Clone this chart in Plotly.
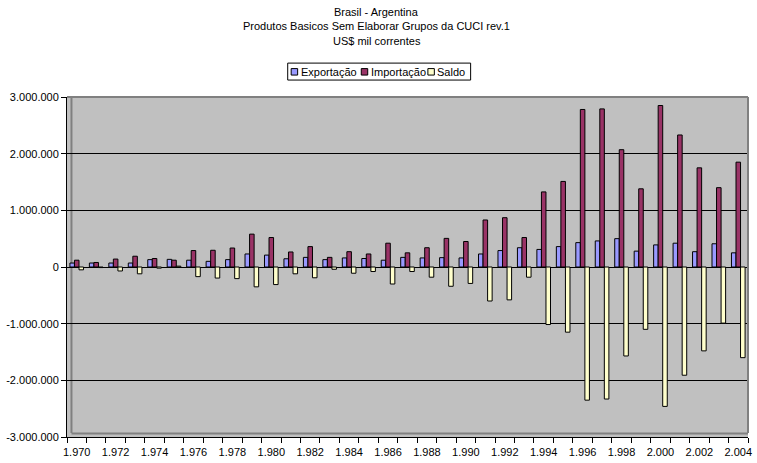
import plotly.graph_objects as go

# Brasil - Argentina trade in basic products (US$ mil correntes)
anos = list(range(1970, 2005))

exportacao = [70000, 70000, 70000, 70000, 130000, 135000, 120000, 100000, 130000, 230000,
              210000, 145000, 170000, 130000, 160000, 150000, 120000, 170000, 160000, 165000,
              160000, 230000, 290000, 340000, 310000, 360000, 430000, 460000, 500000, 280000,
              390000, 420000, 270000, 410000, 250000]

importacao = [120000, 80000, 140000, 190000, 150000, 120000, 290000, 295000, 335000, 580000,
              520000, 265000, 360000, 170000, 270000, 230000, 420000, 250000, 340000, 505000,
              450000, 830000, 870000, 520000, 1325000, 1510000, 2780000, 2790000, 2070000, 1380000,
              2850000, 2330000, 1750000, 1400000, 1850000]

saldo = [-50000, -10000, -70000, -120000, -20000, 15000, -170000, -195000, -205000, -350000,
         -310000, -120000, -190000, -40000, -110000, -80000, -300000, -80000, -180000, -340000,
         -290000, -600000, -580000, -180000, -1015000, -1150000, -2350000, -2330000, -1570000, -1100000,
         -2460000, -1910000, -1480000, -990000, -1600000]

series_nomes = ["Exportação", "Importação", "Saldo"]
series_cores = ["#9999FF", "#993366", "#FFFFCC"]

y_ticks = [3000000, 2000000, 1000000, 0, -1000000, -2000000, -3000000]
y_labels = ["3.000.000", "2.000.000", "1.000.000", "0", "-1.000.000", "-2.000.000", "-3.000.000"]

x_ticks = list(range(1970, 2005, 2))
x_labels = ["1.%03d" % (a - 1000) if a < 2000 else "2.%03d" % (a - 2000) for a in x_ticks]

titulo = ["Brasil - Argentina",
          "Produtos Basicos Sem Elaborar Grupos da CUCI rev.1",
          "US$ mil correntes"]

FONT = "Liberation Sans, Arial, sans-serif"
W, H = 757, 463
ML, MR, MT, MB = 67, 5, 97, 25
PW, PH = W - ML - MR, H - MT - MB


def px(xp):
    return (xp - ML) / PW


def py(yp):
    return (H - MB - yp) / PH


fig = go.Figure()
for nome, cor, vals in zip(series_nomes, series_cores, [exportacao, importacao, saldo]):
    fig.add_trace(go.Bar(
        x=anos, y=vals, name=nome,
        marker=dict(color=cor, line=dict(color="#000000", width=1)),
        showlegend=False,
    ))

shapes = []
# back wall edges and floor
shapes.append(dict(type="line", xref="paper", yref="paper", x0=0, x1=1, y0=1, y1=1,
                   line=dict(color="#808080", width=2), layer="above"))
shapes.append(dict(type="line", xref="paper", yref="paper", x0=1, x1=1, y0=py(434), y1=1,
                   line=dict(color="#808080", width=2), layer="above"))
shapes.append(dict(type="line", xref="paper", yref="paper", x0=px(71.5), x1=px(71.5), y0=py(434), y1=1,
                   line=dict(color="#808080", width=2), layer="below"))
shapes.append(dict(type="line", xref="paper", yref="paper", x0=px(71.5), x1=1, y0=py(434.5), y1=py(434.5),
                   line=dict(color="#808080", width=2), layer="above"))

# legend box
shapes.append(dict(type="rect", xref="paper", yref="paper", x0=px(289), x1=px(473), y0=py(80), y1=py(63),
                   line=dict(color="#000000", width=1), fillcolor="#FFFFFF"))
annotations = []
sw_x = [292.5, 363, 430]
tx_x = [300.5, 370.5, 437]
for nome, cor, sx, tx in zip(series_nomes, series_cores, sw_x, tx_x):
    shapes.append(dict(type="rect", xref="paper", yref="paper", x0=px(sx), x1=px(sx + 6.5),
                       y0=py(75), y1=py(68.5), line=dict(color="#000000", width=1), fillcolor=cor))
    annotations.append(dict(text=nome, xref="paper", yref="paper", x=px(tx), y=py(71.5),
                            xanchor="left", yanchor="middle", showarrow=False,
                            font=dict(family=FONT, size=11, color="#000000")))

for linha, yp in zip(titulo, [12, 26, 41]):
    annotations.append(dict(text=linha, xref="paper", yref="paper", x=px(378.5), y=py(yp),
                            xanchor="center", yanchor="middle", showarrow=False,
                            font=dict(family=FONT, size=11, color="#000000")))

fig.update_layout(
    width=W, height=H,
    margin=dict(l=ML, r=MR, t=MT, b=MB, pad=0),
    paper_bgcolor="#FFFFFF",
    plot_bgcolor="#C0C0C0",
    barmode="group",
    bargap=0.3,
    bargroupgap=0,
    font=dict(family=FONT, size=11, color="#000000"),
    shapes=shapes,
    annotations=annotations,
    xaxis=dict(
        range=[1969.5, 2004.5],
        tickmode="array", tickvals=x_ticks, ticktext=x_labels,
        ticks="outside", ticklen=5, tickcolor="rgba(0,0,0,0)",
        showline=True, linecolor="#000000", linewidth=1,
        showgrid=False, zeroline=False,
        minor=dict(tickmode="linear", tick0=1969.5, dtick=1, ticks="outside",
                   ticklen=5, tickcolor="#000000", tickwidth=1, showgrid=False),
        tickfont=dict(family=FONT, size=11, color="#000000"),
    ),
    yaxis=dict(
        range=[-3000000, 3000000],
        tickmode="array", tickvals=y_ticks, ticktext=y_labels,
        ticks="outside", ticklen=5, tickcolor="#000000", tickwidth=1,
        showline=True, linecolor="#000000", linewidth=1,
        showgrid=True, gridcolor="#000000", gridwidth=1,
        zeroline=True, zerolinecolor="#000000", zerolinewidth=1,
        tickfont=dict(family=FONT, size=11, color="#000000"),
    ),
)

fig.write_html("out.html")
